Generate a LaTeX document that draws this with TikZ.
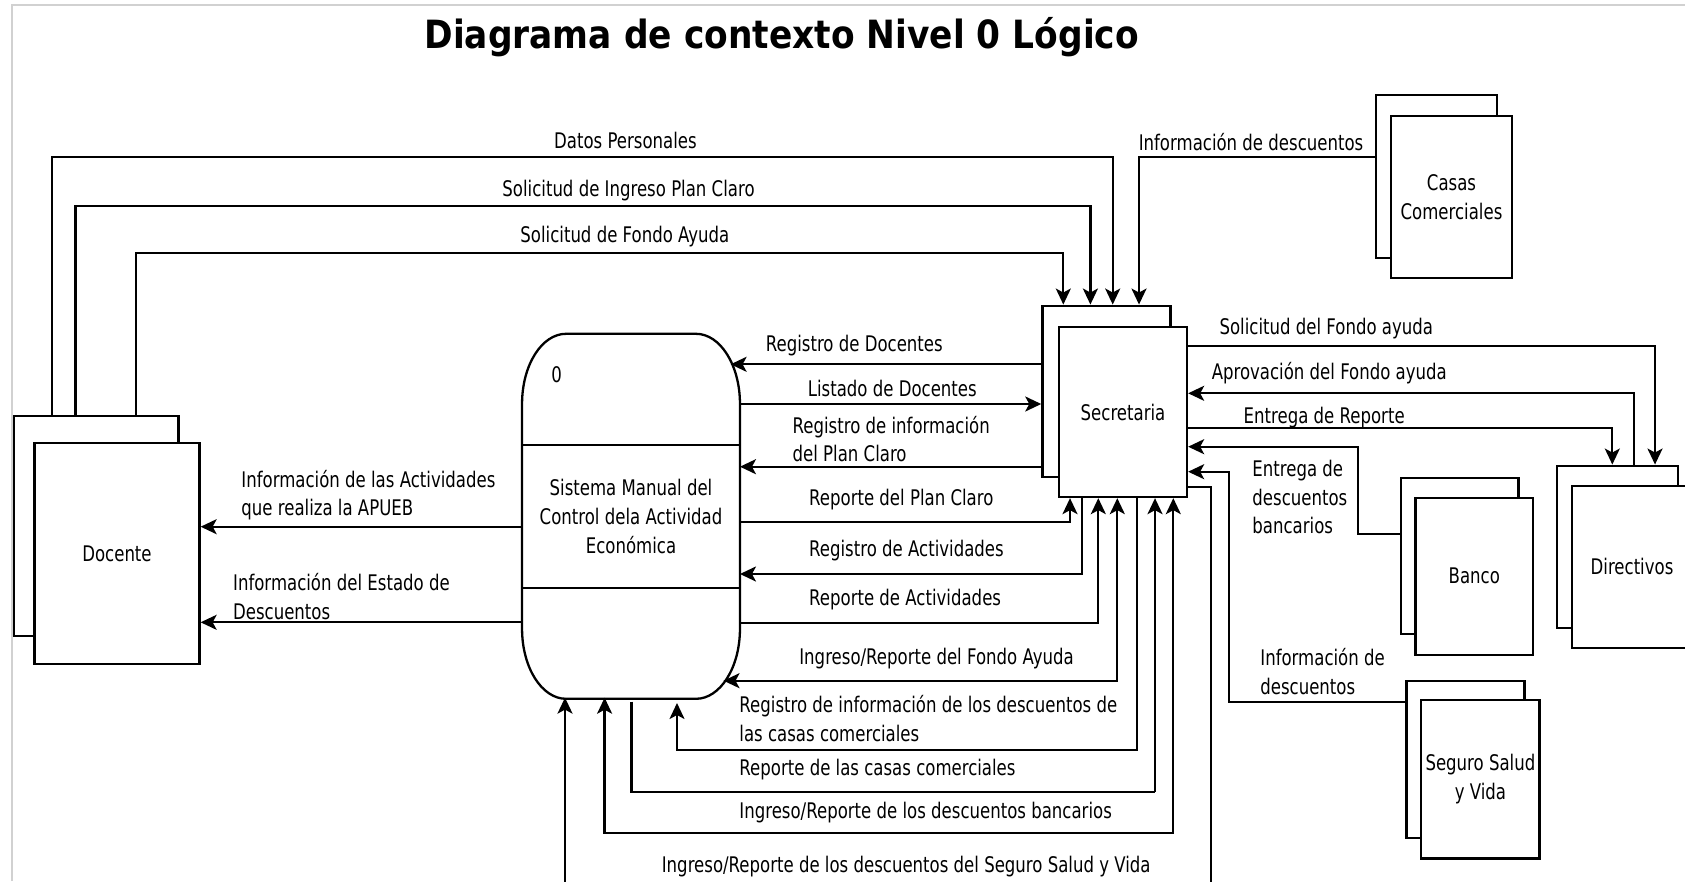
\documentclass[tikz,border=0pt]{standalone}
\usepackage{fontspec}
\setmainfont{DejaVu Sans}[FakeStretch=0.77]
\newfontfamily\titulofont{DejaVu Sans}[FakeStretch=0.885]
\usetikzlibrary{arrows.meta}

\begin{document}
\begin{tikzpicture}[x=1pt,y=-1pt,line width=2.3pt,
    caja/.style={draw,fill=white,inner sep=0pt,align=center,font=\fontsize{21.5}{28.6}\selectfont},
    etiq/.style={anchor=west,inner sep=0pt,align=left,font=\fontsize{21.5}{28.6}\selectfont},
    flujo/.style={-{Stealth[length=16pt,width=15pt,inset=4pt]}},
    doble/.style={{Stealth[length=16pt,width=15pt,inset=4pt]}-{Stealth[length=16pt,width=15pt,inset=4pt]}}]
      \clip (0,0) rectangle (1685,881);
      \fill[white] (0,0) rectangle (1685,881);
      \draw[black!18,line width=2pt] (12,881) -- (12,4.7) -- (1685,4.7);

      \node[anchor=base,font=\titulofont\bfseries\fontsize{38.9}{40}\selectfont] (titulo) at (781.7,48.3) {Diagrama de contexto Nivel 0 Lógico};

      % entidades externas
      \node[caja,minimum width=164.6pt,minimum height=220pt] (docA) at (96.3,526) {};
      \node[caja,minimum width=165pt,minimum height=221pt] (doc) at (117,553.7) {Docente};
      \node[caja,minimum width=128pt,minimum height=171pt] (secA) at (1106.4,391.2) {};
      \node[caja,minimum width=128pt,minimum height=170pt] (sec) at (1123,412) {Secretaria};
      \node[caja,minimum width=121pt,minimum height=163pt] (casA) at (1436.2,176.7) {};
      \node[caja,minimum width=121pt,minimum height=162pt] (cas) at (1451.5,197.2) {Casas\\Comerciales};
      \node[caja,minimum width=117.7pt,minimum height=156pt] (banA) at (1459.7,556.3) {};
      \node[caja,minimum width=117.7pt,minimum height=157.3pt] (ban) at (1474.3,576.3) {Banco};
      \node[caja,minimum width=118pt,minimum height=157.6pt] (segA) at (1465.6,759.5) {};
      \node[caja,minimum width=118.4pt,minimum height=158.3pt] (seg) at (1480.4,779.2) {Seguro Salud\\y Vida};
      \node[caja,minimum width=121pt,minimum height=162pt] (dirA) at (1617.8,546.7) {};
      \node[caja,minimum width=120pt,minimum height=162pt] (dir) at (1632,566.7) {Directivos};

      % proceso
      \node[inner sep=0pt,align=center,minimum width=215.6pt,minimum height=362.7pt,font=\fontsize{21.5}{29.3}\selectfont] (proc) at (631,516.3) {Sistema Manual del\\Control dela Actividad\\Económica};
      \draw ([yshift=-70pt]proc.north west) arc[start angle=180,end angle=90,x radius=44pt,y radius=70pt]
        -- ([xshift=-44pt]proc.north east) arc[start angle=90,end angle=0,x radius=44pt,y radius=70pt]
        -- ([yshift=70pt]proc.south east) arc[start angle=0,end angle=-90,x radius=44pt,y radius=70pt]
        -- ([xshift=44pt]proc.south west) arc[start angle=270,end angle=180,x radius=44pt,y radius=70pt]
        -- cycle;
      \draw (proc.west |- 0,445) -- (proc.east |- 0,445);
      \draw (proc.west |- 0,588.3) -- (proc.east |- 0,588.3);
      \node[font=\fontsize{21.5}{28.6}\selectfont] (num) at (556.7,375) {0};

      \coordinate (pDoc) at (730.6,364.3);
      \coordinate (pFondo) at (723.5,680.7);
      \coordinate (pSeg) at (565,697.6);
      \coordinate (pBan) at (604.6,697.7);
      \coordinate (pRepC) at (631.6,701.7);
      \coordinate (pRegC) at (677,703);

      % flujos Docente - Secretaria
      \draw[flujo] (docA.north -| 51.7,0) |- (1112.7,157) -- (secA.north -| 1112.7,0);
      \draw[flujo] (docA.north -| 75.4,0) |- (1090.4,205.7) -- (secA.north -| 1090.4,0);
      \draw[flujo] (docA.north -| 136.2,0) |- (1063.3,253) -- (secA.north -| 1063.3,0);
      \draw[flujo] (casA.west |- 0,157) -| (secA.north -| 1139,0);
      \node[etiq] (lDatos) at (553,140) {Datos Personales};
      \node[etiq] (lIngreso) at (501.3,190.7) {Solicitud de Ingreso Plan Claro};
      \node[etiq] (lFondo) at (519.3,236.7) {Solicitud de Fondo Ayuda};
      \node[etiq] (lCasas) at (1137.6,142.3) {Información de descuentos};

      % flujos Secretaria - Directivos, Banco, Seguro
      \draw[flujo] (sec.east |- 0,345.7) -| (dirA.north -| 1655,0);
      \draw[flujo] (dirA.north -| 1634.3,0) |- (sec.east |- 0,393.3);
      \draw[flujo] (sec.east |- 0,428.3) -| (dirA.north -| 1612.3,0);
      \draw[flujo] (banA.west |- 0,534.3) -| (1358,446.7) -- (sec.east |- 0,446.7);
      \draw[flujo] (segA.west |- 0,702.3) -| (1229,471.7) -- (sec.east |- 0,471.7);
      \draw[flujo] (sec.east |- 0,487.3) -| (1211,900) -| (pSeg);
      \node[etiq] (lSolicitud) at (1218.4,328.3) {Solicitud del Fondo ayuda};
      \node[etiq] (lAprov) at (1210.6,373.3) {Aprovación del Fondo ayuda};
      \node[etiq] (lEntrega) at (1242.5,417.3) {Entrega de Reporte};
      \node[etiq] (lBanco) at (1251.3,497) {Entrega de\\descuentos\\bancarios};
      \node[etiq] (lSeguro) at (1259.2,671.7) {Información de\\descuentos};

      % flujos proceso - Secretaria
      \draw[flujo] (secA.west |- 0,364.3) -- (pDoc);
      \draw[flujo] (proc.east |- 0,404) -- (secA.west |- 0,404);
      \draw[flujo] (secA.west |- 0,466.7) -- (proc.east |- 0,466.7);
      \draw[flujo] (proc.east |- 0,522.3) -| (sec.south -| 1070,0);
      \draw[flujo] (sec.south -| 1081.7,0) |- (proc.east |- 0,574);
      \draw[flujo] (proc.east |- 0,623.3) -| (sec.south -| 1098.3,0);
      \draw[doble] (sec.south -| 1117.3,0) |- (pFondo);
      \draw[flujo] (sec.south -| 1136.7,0) |- (pRegC |- 0,750) -- (pRegC);
      \draw (pRepC) |- (1155,791.7) edge[flujo] (sec.south -| 1155,0);
      \draw[doble] (pBan) |- (1173.3,832.7) -- (sec.south -| 1173.3,0);
      \node[etiq] (lRegDoc) at (764.7,345.7) {Registro de Docentes};
      \node[etiq] (lListado) at (806.7,388.3) {Listado de Docentes};
      \node[etiq] (lRegPlan) at (791.5,439.2) {Registro de información\\del Plan Claro};
      \node[etiq] (lRepPlan) at (808,500) {Reporte del Plan Claro};
      \node[etiq] (lRegAct) at (808,550.7) {Registro de Actividades};
      \node[etiq] (lRepAct) at (808,599.3) {Reporte de Actividades};
      \node[etiq] (lFondoAy) at (798.2,658.3) {Ingreso/Reporte del Fondo Ayuda};
      \node[etiq] (lRegCas) at (738.3,718.3) {Registro de información de los descuentos de\\las casas comerciales};
      \node[etiq] (lRepCas) at (738.3,770) {Reporte de las casas comerciales};
      \node[etiq] (lBanc) at (738.3,812.7) {Ingreso/Reporte de los descuentos bancarios};
      \node[etiq] (lSeg) at (660.7,866.7) {Ingreso/Reporte de los descuentos del Seguro Salud y Vida};

      % flujos proceso - Docente
      \draw[flujo] (proc.west |- 0,526.7) -- (doc.east |- 0,526.7);
      \draw[flujo] (proc.west |- 0,622.3) -- (doc.east |- 0,622.3);
      \node[etiq] (lAct) at (240.3,495) {Información de las Actividades\\que realiza la APUEB};
      \node[etiq] (lEst) at (232,596.7) {Información del Estado de\\Descuentos};
    \end{tikzpicture}
\end{document}
